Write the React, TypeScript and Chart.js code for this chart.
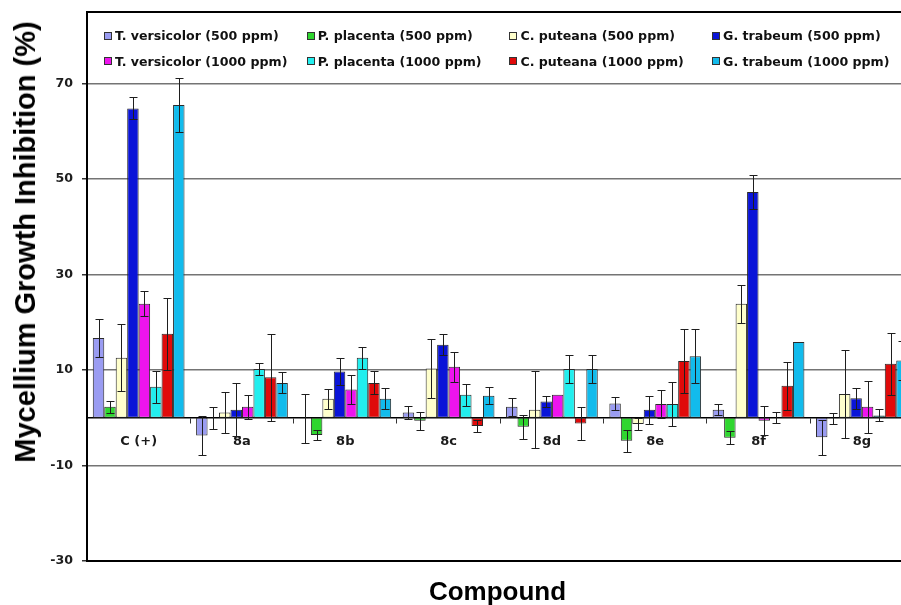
import React, { useEffect, useRef } from "react";
import { Chart, registerables } from "chart.js";

Chart.register(...registerables);

const categories = ["C (+)", "8a", "8b", "8c", "8d", "8e", "8f", "8g"];

const seriesNames = [
  "T. versicolor (500 ppm)",
  "P. placenta (500 ppm)",
  "C. puteana (500 ppm)",
  "G. trabeum (500 ppm)",
  "T. versicolor (1000 ppm)",
  "P. placenta (1000 ppm)",
  "C. puteana (1000 ppm)",
  "G. trabeum (1000 ppm)",
];

const seriesColors = [
  "#9a9cf2",
  "#2fd62f",
  "#ffffcc",
  "#0a14d8",
  "#ee14ee",
  "#22eeee",
  "#e00a0a",
  "#12bbec",
];

const tv500 = [16.7, -3.7, -0.1, 1.1, 2.3, 3.0, 1.7, -4.1];
const tv500Err = [3.9, 4.0, 5.1, 1.4, 1.9, 1.3, 1.1, 3.7];
const pp500 = [2.3, 0, -3.6, -0.6, -1.9, -4.8, -4.2, -0.1];
const pp500Err = [1.3, 2.3, 1.1, 1.9, 2.5, 2.3, 1.35, 1.1];
const cp500 = [12.6, 1.1, 4.0, 10.3, 1.7, -1.3, 23.9, 5.0];
const cp500Err = [7.0, 4.3, 2.1, 6.1, 8.0, 1.35, 3.95, 9.2];
const gt500 = [64.8, 1.7, 9.7, 15.3, 3.4, 1.7, 47.3, 4.1];
const gt500Err = [2.3, 5.5, 2.9, 2.2, 1.2, 2.9, 3.5, 2.2];
const tv1000 = [23.9, 2.3, 5.9, 10.7, 4.8, 2.9, -0.6, 2.3];
const tv1000Err = [2.6, 2.5, 3.0, 3.1, 0, 2.9, 3.0, 5.5];
const pp1000 = [6.5, 10.2, 12.6, 4.8, 10.2, 2.9, 0, 0.5];
const pp1000Err = [3.3, 1.2, 2.3, 2.3, 3.0, 4.6, 1.15, 1.25];
const cp1000 = [17.6, 8.5, 7.3, -1.7, -1.2, 11.9, 6.7, 11.3];
const cp1000Err = [7.5, 9.1, 2.4, 1.2, 3.4, 6.7, 5.0, 6.5];
const gt1000 = [65.5, 7.3, 4.0, 4.6, 10.2, 12.9, 15.9, 12.0];
const gt1000Err = [5.6, 2.2, 2.2, 1.8, 2.9, 5.7, 0, 4.0];

const seriesValues = [tv500, pp500, cp500, gt500, tv1000, pp1000, cp1000, gt1000];
const seriesErrors = [tv500Err, pp500Err, cp500Err, gt500Err, tv1000Err, pp1000Err, cp1000Err, gt1000Err];

const yTicks = [-30, -10, 10, 30, 50, 70];
const yMin = -30;
const yMax = 85;

const yTitle = "Mycellium Growth Inhibition (%)";
const xTitle = "Compound";

const SMALL_FONT = "'DejaVu Sans', 'Liberation Sans', Arial, sans-serif";
const BIG_FONT = "'Liberation Sans', Arial, sans-serif";

const errorBarPlugin = {
  id: "errorBars",
  afterDatasetsDraw(chart: any) {
    const ctx = chart.ctx;
    const y = chart.scales.y;
    ctx.save();
    ctx.strokeStyle = "#1e1e1e";
    ctx.lineWidth = 1;
    chart.data.datasets.forEach((ds: any, i: number) => {
      const meta = chart.getDatasetMeta(i);
      meta.data.forEach((bar: any, j: number) => {
        const e = ds.errors[j];
        if (!e) return;
        const v = ds.data[j];
        const x = Math.round(bar.x) + 0.5;
        const yt = Math.round(y.getPixelForValue(v + e)) + 0.5;
        const yb = Math.round(y.getPixelForValue(v - e)) + 0.5;
        ctx.beginPath();
        ctx.moveTo(x, yt);
        ctx.lineTo(x, yb);
        ctx.moveTo(x - 4, yt);
        ctx.lineTo(x + 4, yt);
        ctx.moveTo(x - 4, yb);
        ctx.lineTo(x + 4, yb);
        ctx.stroke();
      });
    });
    ctx.restore();
  },
};

const framePlugin = {
  id: "frame",
  afterDraw(chart: any) {
    const { ctx, chartArea } = chart;
    ctx.save();
    ctx.strokeStyle = "#000";
    ctx.lineWidth = 2;
    ctx.strokeRect(chartArea.left, chartArea.top, chartArea.right - chartArea.left, chartArea.bottom - chartArea.top);
    ctx.restore();
  },
};

export default function App() {
  const canvasRef = useRef<HTMLCanvasElement | null>(null);

  useEffect(() => {
    if (!canvasRef.current) return;
    const chart = new Chart(canvasRef.current, {
      type: "bar",
      data: {
        labels: categories,
        datasets: seriesNames.map((name, i) => ({
          label: name,
          data: seriesValues[i],
          errors: seriesErrors[i],
          backgroundColor: seriesColors[i],
          borderColor: "#2a2a2a",
          borderWidth: 1,
          borderSkipped: false,
          categoryPercentage: 0.888,
          barPercentage: 1.0,
        })) as any,
      },
      options: {
        responsive: false,
        animation: false,
        events: [],
        layout: { padding: { left: 0, top: 12, right: 6.5, bottom: 44 } },
        plugins: {
          legend: { display: false },
          tooltip: { enabled: false },
          title: { display: false },
        },
        scales: {
          x: {
            type: "category",
            position: { y: 0 } as any,
            offset: true,
            afterFit(scale: any) {
              scale.paddingLeft = 0;
              scale.paddingRight = 0;
            },
            grid: {
              display: true,
              offset: true,
              drawOnChartArea: false,
              drawTicks: true,
              tickLength: 5,
              color: "#333",
              lineWidth: 1,
            },
            border: { display: true, color: "#000", width: 1.5 },
            ticks: {
              autoSkip: false,
              maxRotation: 0,
              minRotation: 0,
              padding: 11,
              color: "#1a1a1a",
              font: { family: SMALL_FONT, size: 13, weight: "bold" },
            },
          },
          y: {
            type: "linear",
            min: yMin,
            max: yMax,
            afterFit(scale: any) {
              scale.width = 87;
              scale.paddingTop = 0;
              scale.paddingBottom = 0;
            },
            afterBuildTicks(scale: any) {
              scale.ticks = yTicks.map((v) => ({ value: v }));
            },
            grid: {
              color: "#747474",
              lineWidth: 1.5,
              drawTicks: true,
              tickLength: 5,
              tickColor: "#333",
            },
            border: { display: true, color: "#000", width: 2 },
            ticks: {
              padding: 9,
              color: "#1e1e1e",
              font: { family: SMALL_FONT, size: 12.6, weight: "bold" },
            },
          },
        },
      },
      plugins: [errorBarPlugin, framePlugin],
    } as any);
    return () => chart.destroy();
  }, []);

  return (
    <div
      style={{
        position: "fixed",
        left: 0,
        top: 0,
        width: 901,
        height: 605,
        overflow: "hidden",
        background: "#fff",
      }}
    >
      <canvas ref={canvasRef} width={920} height={605} style={{ position: "absolute", left: 0, top: 0 }} />
      <div
        style={{
          position: "absolute",
          left: 25,
          top: 242,
          transform: "translate(-50%, -50%) rotate(-90deg)",
          whiteSpace: "nowrap",
          fontFamily: BIG_FONT,
          fontWeight: "bold",
          fontSize: 29,
          lineHeight: "30px",
          color: "#000",
        }}
      >
        {yTitle}
      </div>
      <div
        style={{
          position: "absolute",
          left: 497.5,
          top: 578,
          transform: "translateX(-50%)",
          whiteSpace: "nowrap",
          fontFamily: BIG_FONT,
          fontWeight: "bold",
          fontSize: 26,
          lineHeight: "26px",
          color: "#000",
        }}
      >
        {xTitle}
      </div>
      {seriesNames.map((name, i) => {
        const col = i % 4;
        const row = Math.floor(i / 4);
        const cy = row === 0 ? 35.5 : 61;
        return (
          <div
            key={name}
            style={{
              position: "absolute",
              left: 104 + col * 202.7,
              top: cy - 8,
              height: 16,
              display: "flex",
              alignItems: "center",
              whiteSpace: "nowrap",
              fontFamily: SMALL_FONT,
              fontWeight: "bold",
              fontSize: 12.6,
              color: "#111",
            }}
          >
            <span
              style={{
                display: "inline-block",
                width: 6,
                height: 6,
                border: "1px solid #333",
                background: seriesColors[i],
                marginRight: 3,
              }}
            />
            <span>{name}</span>
          </div>
        );
      })}
    </div>
  );
}
